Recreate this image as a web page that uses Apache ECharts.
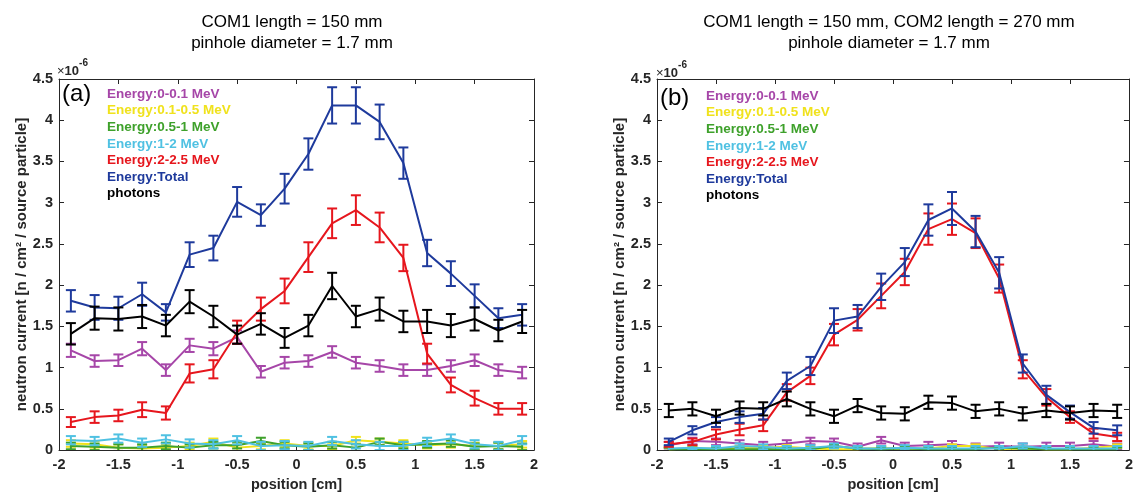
<!DOCTYPE html>
<html>
<head>
<meta charset="utf-8">
<title>Neutron current vs position</title>
<script src="https://cdn.jsdelivr.net/npm/echarts@6/dist/echarts.min.js"></script>
<style>
  html, body { margin: 0; padding: 0; background: #fff; }
  #chart { width: 1136px; height: 497px; }
</style>
</head>
<body>
<div id="chart"></div>
<script>
// Detector positions [cm]
const positions = [-1.9, -1.7, -1.5, -1.3, -1.1, -0.9, -0.7, -0.5, -0.3, -0.1,
                   0.1, 0.3, 0.5, 0.7, 0.9, 1.1, 1.3, 1.5, 1.7, 1.9];

const seriesNames = ['Energy:0-0.1 MeV', 'Energy:0.1-0.5 MeV', 'Energy:0.5-1 MeV',
                     'Energy:1-2 MeV', 'Energy:2-2.5 MeV', 'Energy:Total', 'photons'];
const seriesColors = ['#A646A8', '#F0E21C', '#3EA12B', '#4FC1E2', '#E6161D', '#1E3A9C', '#000000'];

const xTicks = [-2, -1.5, -1, -0.5, 0, 0.5, 1, 1.5, 2];
const yTicks = [0, 0.5, 1, 1.5, 2, 2.5, 3, 3.5, 4, 4.5];

// Panel (a): COM1 only (values in units of 1e-6)
const a_0_01     = [1.21, 1.08, 1.09, 1.23, 0.97, 1.27, 1.23, 1.37, 0.95, 1.06, 1.08, 1.19, 1.06, 1.02, 0.97, 0.97, 1.02, 1.09, 0.97, 0.94];
const a_0_01Err  = [0.08, 0.07, 0.07, 0.08, 0.07, 0.08, 0.08, 0.08, 0.07, 0.07, 0.07, 0.07, 0.07, 0.07, 0.07, 0.07, 0.07, 0.07, 0.07, 0.07];
const a_01_05    = [0.08, 0.07, 0.03, 0.02, 0.03, 0.05, 0.10, 0.03, 0.05, 0.08, 0.05, 0.05, 0.12, 0.10, 0.08, 0.06, 0.07, 0.05, 0.05, 0.07];
const a_01_05Err = [0.04, 0.04, 0.04, 0.04, 0.04, 0.04, 0.04, 0.04, 0.04, 0.04, 0.04, 0.04, 0.04, 0.04, 0.04, 0.04, 0.04, 0.04, 0.04, 0.04];
const a_05_1     = [0.05, 0.04, 0.03, 0.03, 0.05, 0.03, 0.06, 0.06, 0.11, 0.06, 0.04, 0.06, 0.03, 0.10, 0.06, 0.07, 0.08, 0.04, 0.05, 0.04];
const a_05_1Err  = [0.04, 0.04, 0.04, 0.04, 0.04, 0.04, 0.04, 0.04, 0.04, 0.04, 0.04, 0.04, 0.04, 0.04, 0.04, 0.04, 0.04, 0.04, 0.04, 0.04];
const a_1_2      = [0.12, 0.11, 0.14, 0.09, 0.13, 0.08, 0.07, 0.12, 0.05, 0.06, 0.05, 0.11, 0.07, 0.05, 0.05, 0.10, 0.14, 0.07, 0.05, 0.12];
const a_1_2Err   = [0.05, 0.05, 0.05, 0.05, 0.05, 0.05, 0.05, 0.05, 0.05, 0.05, 0.05, 0.05, 0.05, 0.05, 0.05, 0.05, 0.05, 0.05, 0.05, 0.05];
const a_2_25     = [0.34, 0.40, 0.42, 0.49, 0.45, 0.93, 0.98, 1.43, 1.71, 1.93, 2.34, 2.75, 2.91, 2.70, 2.33, 1.17, 0.79, 0.63, 0.50, 0.50];
const a_2_25Err  = [0.06, 0.07, 0.07, 0.09, 0.08, 0.11, 0.11, 0.14, 0.14, 0.15, 0.18, 0.18, 0.18, 0.18, 0.16, 0.12, 0.09, 0.09, 0.07, 0.07];
const a_total    = [1.81, 1.73, 1.72, 1.89, 1.67, 2.37, 2.45, 3.01, 2.85, 3.17, 3.59, 4.18, 4.18, 3.98, 3.48, 2.39, 2.14, 1.87, 1.60, 1.64];
const a_totalErr = [0.13, 0.15, 0.14, 0.14, 0.10, 0.15, 0.15, 0.18, 0.13, 0.18, 0.19, 0.22, 0.22, 0.21, 0.19, 0.16, 0.15, 0.14, 0.12, 0.13];
const a_photons  = [1.41, 1.60, 1.59, 1.62, 1.51, 1.80, 1.62, 1.40, 1.53, 1.36, 1.51, 1.99, 1.62, 1.71, 1.56, 1.56, 1.51, 1.59, 1.45, 1.56];
const a_photErr  = [0.13, 0.14, 0.14, 0.14, 0.13, 0.14, 0.13, 0.11, 0.13, 0.12, 0.13, 0.16, 0.13, 0.14, 0.13, 0.14, 0.14, 0.14, 0.13, 0.14];

// Panel (b): COM1 + COM2 (values in units of 1e-6)
const b_0_01     = [0.06, 0.11, 0.10, 0.08, 0.06, 0.08, 0.11, 0.10, 0.04, 0.12, 0.05, 0.06, 0.07, 0.04, 0.05, 0.04, 0.05, 0.05, 0.07, 0.04];
const b_0_01Err  = [0.04, 0.04, 0.04, 0.04, 0.04, 0.04, 0.04, 0.04, 0.04, 0.04, 0.04, 0.04, 0.04, 0.04, 0.04, 0.04, 0.04, 0.04, 0.04, 0.04];
const b_01_05    = [0.01, 0.02, 0.02, 0.03, 0.03, 0.04, 0.02, 0.01, 0.01, 0.03, 0.02, 0.02, 0.05, 0.05, 0.01, 0.02, 0.01, 0.01, 0.03, 0.05];
const b_01_05Err = [0.02, 0.02, 0.02, 0.02, 0.02, 0.02, 0.02, 0.02, 0.02, 0.02, 0.02, 0.02, 0.02, 0.02, 0.02, 0.02, 0.02, 0.02, 0.02, 0.02];
const b_05_1     = [0.01, 0.01, 0.01, 0.01, 0.01, 0.01, 0.01, 0.05, 0.02, 0.01, 0.02, 0.01, 0.01, 0.01, 0.03, 0.02, 0.01, 0.01, 0.01, 0.01];
const b_05_1Err  = [0.02, 0.02, 0.02, 0.02, 0.02, 0.02, 0.02, 0.02, 0.02, 0.02, 0.02, 0.02, 0.02, 0.02, 0.02, 0.02, 0.02, 0.02, 0.02, 0.02];
const b_1_2      = [0.02, 0.03, 0.02, 0.05, 0.04, 0.02, 0.03, 0.05, 0.02, 0.02, 0.03, 0.02, 0.02, 0.02, 0.02, 0.05, 0.02, 0.02, 0.02, 0.02];
const b_1_2Err   = [0.03, 0.03, 0.03, 0.03, 0.03, 0.03, 0.03, 0.03, 0.03, 0.03, 0.03, 0.03, 0.03, 0.03, 0.03, 0.03, 0.03, 0.03, 0.03, 0.03];
const b_2_25     = [0.07, 0.10, 0.19, 0.25, 0.30, 0.70, 0.90, 1.40, 1.58, 1.87, 2.16, 2.68, 2.80, 2.63, 2.08, 0.98, 0.64, 0.40, 0.20, 0.16];
const b_2_25Err  = [0.03, 0.04, 0.06, 0.07, 0.07, 0.10, 0.10, 0.13, 0.13, 0.15, 0.16, 0.19, 0.19, 0.18, 0.17, 0.11, 0.10, 0.07, 0.06, 0.05];
const b_total    = [0.10, 0.24, 0.34, 0.40, 0.44, 0.84, 1.02, 1.57, 1.62, 1.98, 2.28, 2.79, 2.93, 2.65, 2.15, 1.05, 0.67, 0.46, 0.27, 0.24];
const b_totalErr = [0.04, 0.05, 0.06, 0.07, 0.07, 0.10, 0.11, 0.15, 0.14, 0.16, 0.17, 0.19, 0.20, 0.19, 0.19, 0.11, 0.11, 0.08, 0.07, 0.06];
const b_photons  = [0.48, 0.50, 0.41, 0.51, 0.50, 0.62, 0.50, 0.41, 0.54, 0.45, 0.44, 0.58, 0.57, 0.47, 0.50, 0.44, 0.48, 0.45, 0.48, 0.47];
const b_photErr  = [0.08, 0.08, 0.08, 0.08, 0.08, 0.09, 0.08, 0.08, 0.08, 0.08, 0.08, 0.08, 0.08, 0.08, 0.08, 0.08, 0.08, 0.08, 0.08, 0.08];

const panelA = [[a_0_01, a_0_01Err], [a_01_05, a_01_05Err], [a_05_1, a_05_1Err], [a_1_2, a_1_2Err],
                [a_2_25, a_2_25Err], [a_total, a_totalErr], [a_photons, a_photErr]];
const panelB = [[b_0_01, b_0_01Err], [b_01_05, b_01_05Err], [b_05_1, b_05_1Err], [b_1_2, b_1_2Err],
                [b_2_25, b_2_25Err], [b_total, b_totalErr], [b_photons, b_photErr]];

const FONT = '"Liberation Sans", Arial, Helvetica, sans-serif';
const AXIS_COLOR = '#262626';

// Vertical error bar with caps
function renderErrorBar(params, api) {
  const x = api.value(0), y = api.value(1), e = api.value(2);
  const hi = api.coord([x, y + e]);
  const lo = api.coord([x, y - e]);
  const half = 5;
  const style = { stroke: api.visual('color'), lineWidth: 2 };
  return {
    type: 'group',
    children: [
      { type: 'line', shape: { x1: hi[0], y1: hi[1], x2: lo[0], y2: lo[1] }, style: style },
      { type: 'line', shape: { x1: hi[0] - half, y1: hi[1], x2: hi[0] + half, y2: hi[1] }, style: style },
      { type: 'line', shape: { x1: lo[0] - half, y1: lo[1], x2: lo[0] + half, y2: lo[1] }, style: style }
    ]
  };
}

function buildSeries(panel, axisIndex) {
  const out = [];
  panel.forEach(function (pair, i) {
    const vals = pair[0], errs = pair[1];
    out.push({
      name: seriesNames[i],
      type: 'line',
      xAxisIndex: axisIndex, yAxisIndex: axisIndex,
      data: positions.map(function (p, k) { return [p, vals[k]]; }),
      showSymbol: false,
      symbol: 'none',
      color: seriesColors[i],
      lineStyle: { width: 2, color: seriesColors[i] },
      z: 2 + i,
      animation: false,
      silent: true
    });
    out.push({
      name: seriesNames[i],
      type: 'custom',
      xAxisIndex: axisIndex, yAxisIndex: axisIndex,
      data: positions.map(function (p, k) { return [p, vals[k], errs[k]]; }),
      renderItem: renderErrorBar,
      itemStyle: { color: seriesColors[i] },
      encode: { x: 0, y: 1 },
      clip: true,
      z: 2 + i,
      animation: false,
      silent: true
    });
  });
  return out;
}

const grids = [
  { left: 59, top: 79, width: 475, height: 376 },
  { left: 657, top: 79, width: 475, height: 376 }
];

function mainX(gi) {
  return {
    type: 'value', gridIndex: gi, min: xTicks[0], max: xTicks[xTicks.length - 1], interval: 0.5,
    position: 'bottom',
    name: 'position [cm]', nameLocation: 'middle', nameGap: 25,
    nameTextStyle: { fontFamily: FONT, fontSize: 14.5, fontWeight: 'bold', color: AXIS_COLOR },
    axisLine: { show: true, onZero: false, lineStyle: { color: AXIS_COLOR, width: 1 } },
    axisTick: { show: true, inside: true, length: 5, lineStyle: { color: AXIS_COLOR } },
    axisLabel: { show: true, margin: 7, fontFamily: FONT, fontSize: 14.5, fontWeight: 'bold', color: AXIS_COLOR },
    splitLine: { show: false }
  };
}
function frameX(gi) {
  return {
    type: 'value', gridIndex: gi, min: xTicks[0], max: xTicks[xTicks.length - 1], interval: 0.5,
    position: 'top',
    axisLine: { show: true, onZero: false, lineStyle: { color: AXIS_COLOR, width: 1 } },
    axisTick: { show: true, inside: true, length: 5, lineStyle: { color: AXIS_COLOR } },
    axisLabel: { show: false }, splitLine: { show: false }
  };
}
function mainY(gi) {
  return {
    type: 'value', gridIndex: gi, min: yTicks[0], max: yTicks[yTicks.length - 1], interval: 0.5,
    position: 'left',
    name: 'neutron current [n / cm\u00B2 / source particle]', nameLocation: 'middle', nameGap: 30,
    nameTextStyle: { fontFamily: FONT, fontSize: 15, fontWeight: 'bold', color: AXIS_COLOR },
    axisLine: { show: true, onZero: false, lineStyle: { color: AXIS_COLOR, width: 1 } },
    axisTick: { show: true, inside: true, length: 5, lineStyle: { color: AXIS_COLOR } },
    axisLabel: { show: true, margin: 6, fontFamily: FONT, fontSize: 14.5, fontWeight: 'bold', color: AXIS_COLOR },
    splitLine: { show: false }
  };
}
function frameY(gi) {
  return {
    type: 'value', gridIndex: gi, min: yTicks[0], max: yTicks[yTicks.length - 1], interval: 0.5,
    position: 'right',
    axisLine: { show: true, onZero: false, lineStyle: { color: AXIS_COLOR, width: 1 } },
    axisTick: { show: true, inside: true, length: 5, lineStyle: { color: AXIS_COLOR } },
    axisLabel: { show: false }, splitLine: { show: false }
  };
}

function legendFor(left, top) {
  return {
    left: left, top: top, orient: 'vertical',
    icon: 'none', itemWidth: 0, itemHeight: 13, itemGap: 2.6,
    selectedMode: false,
    textStyle: { fontFamily: FONT, fontSize: 13.5, fontWeight: 'bold' },
    data: seriesNames.map(function (n, i) { return { name: n, textStyle: { color: seriesColors[i] } }; })
  };
}

const titleStyle = { fontFamily: FONT, fontSize: 17, fontWeight: 'normal', color: '#000', lineHeight: 21 };

const option = {
  animation: false,
  backgroundColor: '#ffffff',
  textStyle: { fontFamily: FONT },
  title: [
    { text: 'COM1 length = 150 mm\npinhole diameter = 1.7 mm', left: 287, top: 7, textAlign: 'center', textStyle: titleStyle },
    { text: 'COM1 length = 150 mm, COM2 length = 270 mm\npinhole diameter = 1.7 mm', left: 884, top: 7, textAlign: 'center', textStyle: titleStyle }
  ],
  legend: [legendFor(97, 82), legendFor(696, 84)],
  grid: grids,
  xAxis: [mainX(0), mainX(1), frameX(0), frameX(1)],
  yAxis: [mainY(0), mainY(1), frameY(0), frameY(1)],
  series: buildSeries(panelA, 0).concat(buildSeries(panelB, 1)),
  graphic: [
    { type: 'text', left: 62, top: 82, style: { text: '(a)', font: '24px ' + FONT, fill: '#000' } },
    { type: 'text', left: 660, top: 86, style: { text: '(b)', font: '24px ' + FONT, fill: '#000' } },
    { type: 'text', left: 57, top: 58, style: {
        text: '{m|\u00D7}{b|10}{s|-6}',
        rich: {
          m: { font: '13px ' + FONT, fill: AXIS_COLOR, padding: [8, 0, 0, 0] },
          b: { font: 'bold 13px ' + FONT, fill: AXIS_COLOR, padding: [8, 0, 0, 0] },
          s: { font: 'bold 10px ' + FONT, fill: AXIS_COLOR, padding: [0, 0, 8, 0] }
        } } },
    { type: 'text', left: 656, top: 60, style: {
        text: '{m|\u00D7}{b|10}{s|-6}',
        rich: {
          m: { font: '13px ' + FONT, fill: AXIS_COLOR, padding: [8, 0, 0, 0] },
          b: { font: 'bold 13px ' + FONT, fill: AXIS_COLOR, padding: [8, 0, 0, 0] },
          s: { font: 'bold 10px ' + FONT, fill: AXIS_COLOR, padding: [0, 0, 8, 0] }
        } } }
  ]
};

const chart = echarts.init(document.getElementById('chart'), null, { renderer: 'canvas' });
chart.setOption(option);
</script>
</body>
</html>
